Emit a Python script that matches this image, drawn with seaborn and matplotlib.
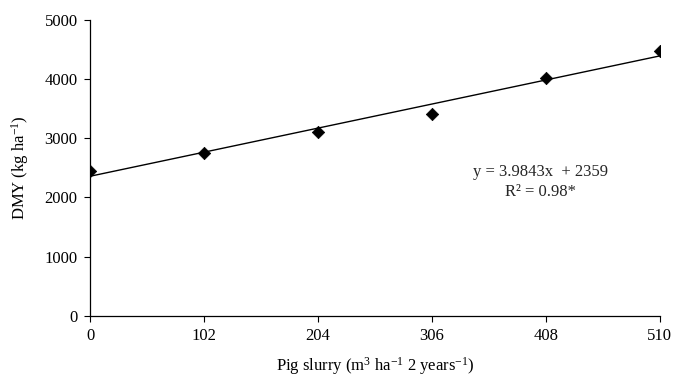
import numpy as np
import pandas as pd
import seaborn as sns
import matplotlib.pyplot as plt

# data
slurry_doses = [0, 102, 204, 306, 408, 510]
dmy_values = [2455, 2757, 3100, 3410, 4025, 4476]
fit_slope = 3.9843
fit_intercept = 2359
y_ticks = [0, 1000, 2000, 3000, 4000, 5000]

sns.set_theme(style="ticks")
plt.rcParams['font.family'] = ['Liberation Serif', 'DejaVu Serif']
plt.rcParams['mathtext.fontset'] = 'custom'
plt.rcParams['mathtext.rm'] = 'Liberation Serif'
plt.rcParams['mathtext.it'] = 'Liberation Serif:italic'

df = pd.DataFrame({'dose': slurry_doses, 'dmy': dmy_values})
# trend line from the regression equation
fit_x = np.array([slurry_doses[0], slurry_doses[-1]])
fit_df = pd.DataFrame({'dose': fit_x, 'dmy': fit_slope * fit_x + fit_intercept})

fig = plt.figure(figsize=(6.73, 3.76), dpi=100)
ax = fig.add_axes([0.134, 0.160, 0.846, 0.787])

sns.lineplot(data=fit_df, x='dose', y='dmy', color='black', linewidth=1.0, ax=ax)
sns.scatterplot(data=df, x='dose', y='dmy', marker='D', color='black', s=40,
                edgecolor='black', linewidth=0.5, zorder=3, ax=ax)

ax.set_xlim(0, 510)
ax.set_ylim(0, 5000)
ax.set_xticks(slurry_doses)
ax.set_yticks(y_ticks)
ax.tick_params(axis='both', labelsize=12, direction='out', length=4, width=0.8,
               color='black', labelcolor='black', pad=5)
for side in ['top', 'right']:
    ax.spines[side].set_visible(False)
for side in ['left', 'bottom']:
    ax.spines[side].set_color('black')
    ax.spines[side].set_linewidth(0.9)

ax.set_xlabel(r'Pig slurry (m$^{3}$ ha$^{-1}$ 2 years$^{-1}$)', fontsize=12,
              color='black', labelpad=8)
ax.set_ylabel(r'DMY (kg ha$^{-1}$)', fontsize=12, color='black', labelpad=10)

ax.text(403, 2432, 'y = 3.9843x  + 2359', ha='center', va='center', fontsize=12)
ax.text(403, 2095, 'R² = 0.98*', ha='center', va='center', fontsize=12)

fig.savefig('out.png', dpi=100)
